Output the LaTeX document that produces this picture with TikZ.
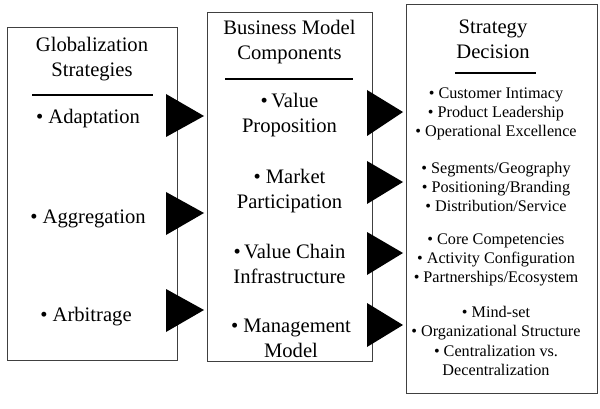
\documentclass[tikz,border=0pt]{standalone}
\usepackage{fontspec}
\setmainfont{Liberation Serif}
\begin{document}
\begin{tikzpicture}[x=1pt,y=-1pt,
  box/.style={draw=black!75, line width=0.8pt, minimum width=#1, inner sep=0pt, anchor=north west},
  rulerline/.style={draw=black, line width=1.3pt},
  big/.style={font=\fontsize{20.6}{25}\selectfont, align=center, inner sep=0pt},
  small/.style={font=\fontsize{16.2}{19.2}\selectfont, align=center, inner sep=0pt},
  tri/.style={fill=black}]
\useasboundingbox (0,0) rectangle (600,409);
% boxes
\node[box=170, minimum height=333] (b1) at (7,27) {};
\node[box=165, minimum height=349] (b2) at (207,12) {};
\node[box=191, minimum height=389] (b3) at (406,4) {};
% titles
\node[big] (t1) at (92,59) {Globalization\\Strategies};
\node[big] (t2) at (289.5,42.5) {Business Model\\Components};
\node[big] (t3) at (493,39) {Strategy\\Decision};
\draw[rulerline] (32,95) -- (153,95);
\draw[rulerline] (225,79) -- (353,79);
\draw[rulerline] (455,73) -- (536,73);
% column 1
\node[big] (a1) at (88,119) {\textbullet\ Adaptation};
\node[big] (a2) at (88,219) {\textbullet\ Aggregation};
\node[big] (a3) at (86,317) {\textbullet\ Arbitrage};
% column 2
\node[big] (c1) at (289.5,115) {\textbullet\,Value\\Proposition};
\node[big] (c2) at (289.5,191) {\textbullet\ Market\\Participation};
\node[big] (c3) at (289.5,264) {\textbullet\,Value Chain\\Infrastructure};
\node[big] (c4) at (291,338) {\textbullet\ Management\\Model};
% column 3
\node[small] (d1) at (496,114) {\textbullet\ Customer Intimacy\\\textbullet\ Product Leadership\\\textbullet\ Operational Excellence};
\node[small] (d2) at (496,187) {\textbullet\ Segments/Geography\\\textbullet\ Positioning/Branding\\\textbullet\ Distribution/Service};
\node[small] (d3) at (496,260) {\textbullet\ Core Competencies\\\textbullet\ Activity Configuration\\\textbullet\ Partnerships/Ecosystem};
\node[small] (d4) at (496,341) {\textbullet\ Mind-set\\\textbullet\ Organizational Structure\\\textbullet\ Centralization vs.\\Decentralization};
% arrow triangles
\fill[tri] (166,94) -- (204,116) -- (166,137) -- cycle;
\fill[tri] (166,192) -- (204,213) -- (166,235) -- cycle;
\fill[tri] (166,289) -- (204,310) -- (166,332) -- cycle;
\fill[tri] (367,90) -- (403,112) -- (367,136) -- cycle;
\fill[tri] (367,161) -- (403,182) -- (367,204) -- cycle;
\fill[tri] (367,232) -- (403,253) -- (367,275) -- cycle;
\fill[tri] (367,303) -- (403,325) -- (367,347) -- cycle;
\end{tikzpicture}
\end{document}
